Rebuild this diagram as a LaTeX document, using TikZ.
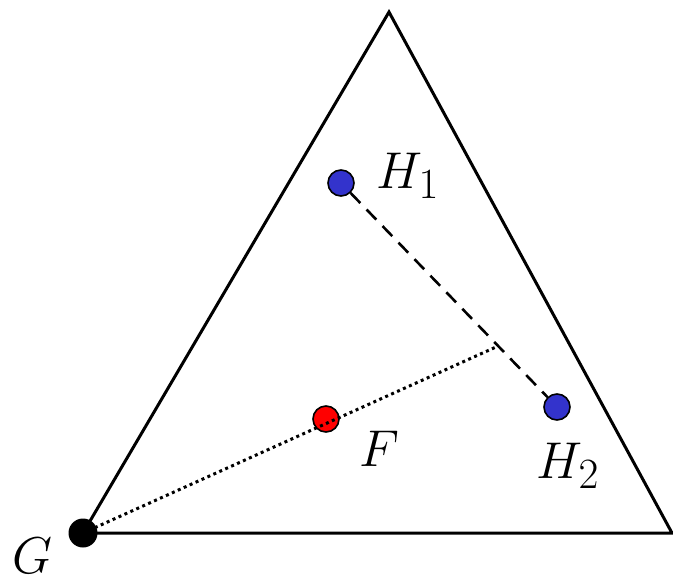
\documentclass[tikz,border=0pt]{standalone}
\definecolor{ptblue}{RGB}{51,51,204}
\newcommand{\biglbl}[1]{\scalebox{2.08}{\Huge$#1$}}
\begin{document}
\begin{tikzpicture}[x=1pt,y=-1pt,
  edge/.style={line width=3pt},
  pt/.style={circle,draw,line width=1.6pt,minimum size=26pt,inner sep=0pt},
  lbl/.style={inner sep=0pt}]
\useasboundingbox (0,0) rectangle (673,582);
\coordinate (T) at (389,12);
\coordinate (R) at (672,533);
\coordinate (M) at (496,347);
\node[circle,fill=black,minimum size=29pt,inner sep=0pt] (G) at (83,533) {};
\draw[edge,line join=miter] (G.center) -- (T) -- (R) -- (G.center);
\node[pt,fill=ptblue] (H1) at (341,183) {};
\node[pt,fill=ptblue] (H2) at (557,407) {};
\draw[line width=2.6pt,dash pattern=on 14pt off 9pt] (H1) -- (H2);
\node[pt,fill=red] (F) at (326,419) {};
\draw[line width=3pt,dash pattern=on 3pt off 3.5pt] (G.center) -- (M);
\node[lbl] (lH1) at (408,176) {\biglbl{H_1}};
\node[lbl] (lH2) at (568,466) {\biglbl{H_2}};
\node[lbl] (lF) at (379,449) {\biglbl{F}};
\node[lbl] (lG) at (32,556) {\biglbl{G}};
\end{tikzpicture}
\end{document}
